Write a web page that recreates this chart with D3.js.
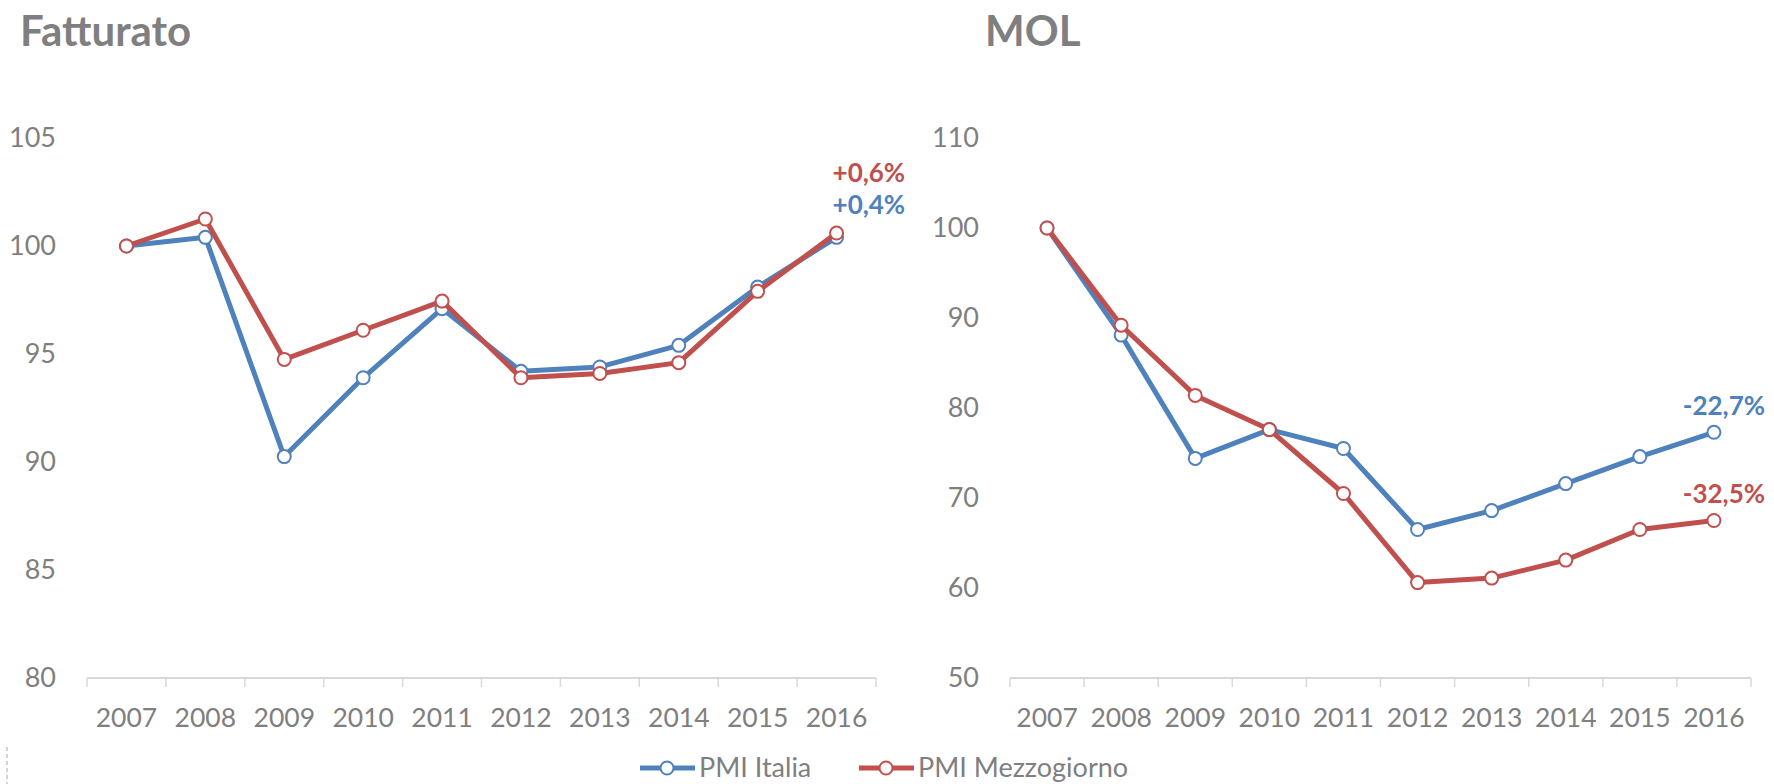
<!DOCTYPE html>
<html>
<head>
<meta charset="utf-8">
<script src="https://cdn.jsdelivr.net/npm/d3@7"></script>
<style>
	body { margin: 0; background: #fff; }
	svg { display: block; font-family: Lato, "Open Sans", sans-serif; }
</style>
</head>
<body>
<svg id="chart" width="1774" height="784"></svg>
<script>
//data
var years = ['2007','2008','2009','2010','2011','2012','2013','2014','2015','2016'];
var fatt_italia = [100, 100.4, 90.25, 93.9, 97.1, 94.2, 94.4, 95.4, 98.1, 100.4];
var fatt_mezzo  = [100, 101.25, 94.75, 96.1, 97.45, 93.9, 94.1, 94.6, 97.9, 100.6];
var mol_italia  = [100, 88.1, 74.4, 77.6, 75.5, 66.5, 68.6, 71.6, 74.6, 77.3];
var mol_mezzo   = [100, 89.2, 81.4, 77.6, 70.5, 60.6, 61.1, 63.1, 66.5, 67.5];
var fatt_ticks = [80, 85, 90, 95, 100, 105];
var mol_ticks  = [50, 60, 70, 80, 90, 100, 110];
var series_names = ['PMI Italia', 'PMI Mezzogiorno'];
var colors = ['#4f81bd', '#c0504d'];

var svg = d3.select('#chart');
var grey = '#7f7f7f';

drawPanel({
	title: 'Fatturato', titleX: 20,
	x0: 87, x1: 876, y0: 678, y1: 138,
	domain: [80, 105], ticks: fatt_ticks,
	data: [fatt_italia, fatt_mezzo],
	labels: [
		{text: '+0,4%', s: 0, dx: -4, dy: -23, anchor: 'start'},
		{text: '+0,6%', s: 1, dx: -4, dy: -51, anchor: 'start'}
	]
});

drawPanel({
	title: 'MOL', titleX: 985,
	x0: 1010, x1: 1751, y0: 678, y1: 138,
	domain: [50, 110], ticks: mol_ticks,
	data: [mol_italia, mol_mezzo],
	labels: [
		{text: '-22,7%', s: 0, dx: 10, dy: -17, anchor: 'middle'},
		{text: '-32,5%', s: 1, dx: 10, dy: -18, anchor: 'middle'}
	]
});

function drawPanel(p) {
	var g = svg.append('g');
	var x = d3.scaleBand().domain(years).range([p.x0, p.x1]).padding(0);
	var y = d3.scaleLinear().domain(p.domain).range([p.y0, p.y1]);
	var cx = d => x(d) + x.bandwidth()/2;

	g.append('text')
		.attr('x', p.titleX).attr('y', 46)
		.style('font-size', '42px').style('font-weight', 'bold')
		.style('fill', grey)
		.text(p.title);

	//y labels, no axis line
	var ya = g.append('g')
		.attr('transform', 'translate(' + p.x0 + ',0)')
		.call(d3.axisLeft(y).tickValues(p.ticks).tickSize(0).tickPadding(31));
	ya.select('.domain').remove();
	ya.selectAll('text').style('font-size', '27px').style('fill', grey)
		.style('font-family', 'Lato, sans-serif');

	//x labels
	var xa = g.append('g')
		.attr('transform', 'translate(0,' + p.y0 + ')')
		.call(d3.axisBottom(x).tickSize(0).tickPadding(30));
	xa.select('.domain').remove();
	xa.selectAll('text').style('font-size', '26.5px').style('fill', grey)
		.style('font-family', 'Lato, sans-serif');

	//axis line with boundary ticks
	g.append('line')
		.attr('x1', p.x0).attr('x2', p.x1)
		.attr('y1', p.y0).attr('y2', p.y0)
		.style('stroke', '#d9d9d9').style('stroke-width', 2);
	var bounds = years.map(d => x(d)).concat([p.x1]);
	g.selectAll('.btick').data(bounds).enter().append('line')
		.attr('class', 'btick')
		.attr('x1', d => d).attr('x2', d => d)
		.attr('y1', p.y0).attr('y2', p.y0 + 9)
		.style('stroke', '#d9d9d9').style('stroke-width', 1.5);

	var line = d3.line().x((d, i) => cx(years[i])).y(d => y(d));

	p.data.forEach(function(vals, s) {
		g.append('path')
			.attr('d', line(vals))
			.style('fill', 'none')
			.style('stroke', colors[s])
			.style('stroke-width', 5)
			.style('stroke-linejoin', 'round');
		g.selectAll('.pt' + s).data(vals).enter().append('circle')
			.attr('class', 'pt' + s)
			.attr('cx', (d, i) => cx(years[i]))
			.attr('cy', d => y(d))
			.attr('r', 6.5)
			.style('fill', '#fff')
			.style('stroke', colors[s])
			.style('stroke-width', 2);
	});

	//end labels
	var last = years.length - 1;
	p.labels.forEach(function(l) {
		g.append('text')
			.attr('x', cx(years[last]) + l.dx)
			.attr('y', y(p.data[l.s][last]) + l.dy)
			.attr('text-anchor', l.anchor)
			.style('font-size', '26px').style('font-weight', 'bold')
			.style('fill', colors[l.s])
			.text(l.text);
	});
}

//legend
var leg = svg.append('g').attr('transform', 'translate(0,768)');
var legX = [640, 859];
series_names.forEach(function(name, i) {
	var lg = leg.append('g').attr('transform', 'translate(' + legX[i] + ',0)');
	lg.append('line').attr('x1', 0).attr('x2', 55).attr('y1', 0).attr('y2', 0)
		.style('stroke', colors[i]).style('stroke-width', 5);
	lg.append('circle').attr('cx', 27).attr('cy', 0).attr('r', 6.5)
		.style('fill', '#fff').style('stroke', colors[i]).style('stroke-width', 2);
	lg.append('text').attr('x', 59).attr('y', 9)
		.style('font-size', '27px').style('fill', grey)
		.text(name);
});

//dashed selection mark bottom-left
svg.append('line').attr('x1', 7).attr('x2', 7).attr('y1', 747).attr('y2', 784)
	.style('stroke', '#a6a6a6').style('stroke-width', 1).style('stroke-dasharray', '4,3');
</script>
</body>
</html>
